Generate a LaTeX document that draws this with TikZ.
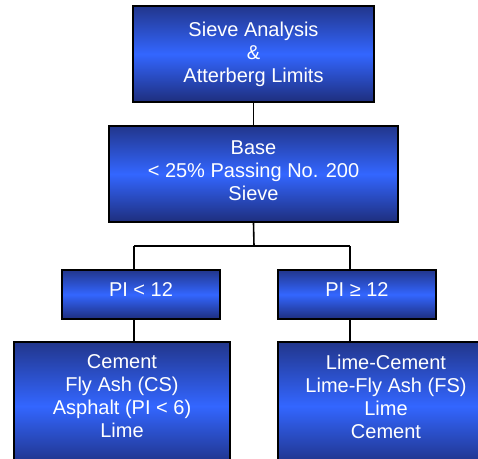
\documentclass[tikz,border=0pt]{standalone}
\usepackage{fontspec}
\setmainfont{Liberation Sans}
\definecolor{dkA}{RGB}{34,54,140}
\definecolor{dkB}{RGB}{30,46,125}
\definecolor{brB}{RGB}{51,102,255}
\newcommand{\lowpad}[1]{\rule[-#1]{0pt}{0pt}}
\tikzset{
  box/.style={rectangle, draw=black, line width=2bp, top color=dkA, bottom color=dkB, middle color=brB,
    text=white, align=center, inner sep=0pt, font=\fontsize{20bp}{23bp}\selectfont},
  txt/.style={text=white, align=center, inner sep=0pt, font=\fontsize{20bp}{23bp}\selectfont},
  conn/.style={draw=black, line width=1.6bp}
}
\begin{document}
\begin{tikzpicture}[x=1bp,y=-1bp]
\useasboundingbox (0,0) rectangle (478,459);
\clip (0,0) rectangle (478,459);
\node[box, minimum width=241bp, minimum height=96bp] (b1) at (253.5,54) {Sieve Analysis\\\&\\Atterberg Limits};
\node[box, minimum width=289bp, minimum height=96bp] (b2) at (253.5,174) {Base\\< 25\% Passing No. 200\\Sieve\lowpad{6bp}};
\node[box, minimum width=158bp, minimum height=49bp] (pl) at (141,294.5) {PI < 12\lowpad{9bp}};
\node[box, minimum width=158bp, minimum height=49bp] (pr) at (357,294.5) {PI ≥ 12\lowpad{9bp}};
\node[box, minimum width=216bp, minimum height=128bp] (bl) at (122,406) {};
\node[box, minimum width=216bp, minimum height=128bp] (br) at (386,406) {};
\node[txt] (blt) at (122,396.5) {Cement\\Fly Ash (CS)\\Asphalt (PI < 6)\\Lime};
\node[txt] (brt) at (386,396.5) {Lime-Cement\\Lime-Fly Ash (FS)\\Lime\\Cement};
\coordinate (j) at (254,246);
\coordinate (jl) at (134,246);
\coordinate (jr) at (350,246);
\draw[conn] (b1.south) -- (b2.north);
\draw[conn] (b2.south) -- (j);
\draw[conn] (jl) -- (jr);
\draw[conn] (jl) -- (jl |- pl.north);
\draw[conn] (jr) -- (jr |- pr.north);
\draw[conn] (jl |- pl.south) -- (jl |- bl.north);
\draw[conn] (jr |- pr.south) -- (jr |- br.north);
\end{tikzpicture}
\end{document}
